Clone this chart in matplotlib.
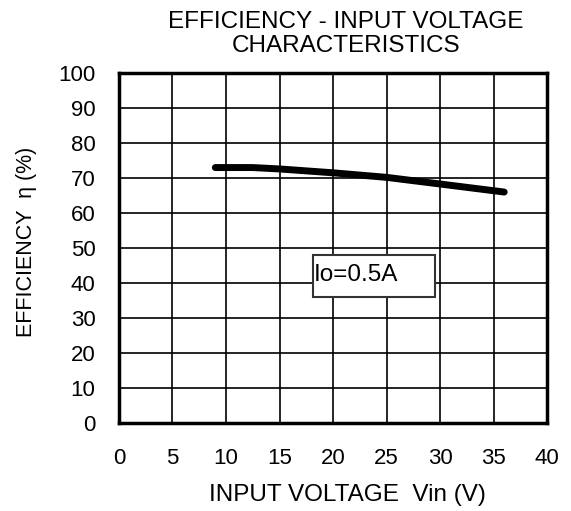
import matplotlib
matplotlib.use("Agg")
import matplotlib.pyplot as plt
from matplotlib.patches import Rectangle

plt.rcParams['font.family'] = ['Liberation Sans', 'DejaVu Sans']

# data
vin = [9, 12.5, 15, 20, 25, 30, 36]
eff = [73, 73, 72.6, 71.5, 70.2, 68.3, 66]

x_ticks = [0, 5, 10, 15, 20, 25, 30, 35, 40]
y_ticks = [0, 10, 20, 30, 40, 50, 60, 70, 80, 90, 100]

fig = plt.figure(figsize=(5.71, 5.11), dpi=100)
ax = fig.add_axes([0.2084, 0.1722, 0.7496, 0.6848])

ax.plot(vin, eff, color='black', linewidth=5, solid_capstyle='round')

ax.set_xlim(0, 40)
ax.set_ylim(0, 100)
ax.set_xticks(x_ticks)
ax.set_yticks(y_ticks)
ax.tick_params(length=0, labelsize=16)
ax.tick_params(axis='x', pad=18)
ax.tick_params(axis='y', pad=17)
ax.grid(True, color='black', linewidth=1.2)
ax.set_axisbelow(True)
for s in ax.spines.values():
    s.set_linewidth(2.5)

# annotation box
ax.add_patch(Rectangle((18.1, 36), 11.4, 12, facecolor='white',
                       edgecolor='#333333', linewidth=1.5, zorder=3))
ax.text(18.2, 42.3, 'Io=0.5A', fontsize=17.5, va='center', ha='left', zorder=4)

fig.text(0.608, 0.031, 'INPUT VOLTAGE  Vin (V)', fontsize=17.5, ha='center', va='center')
fig.text(0.047, 0.527, 'EFFICIENCY  η (%)', fontsize=15.5, ha='center', va='center',
         rotation=90)
fig.text(0.606, 0.934, 'EFFICIENCY - INPUT VOLTAGE\nCHARACTERISTICS', fontsize=17.5,
         ha='center', va='center', linespacing=1.1)

fig.savefig('out.png', dpi=100)
